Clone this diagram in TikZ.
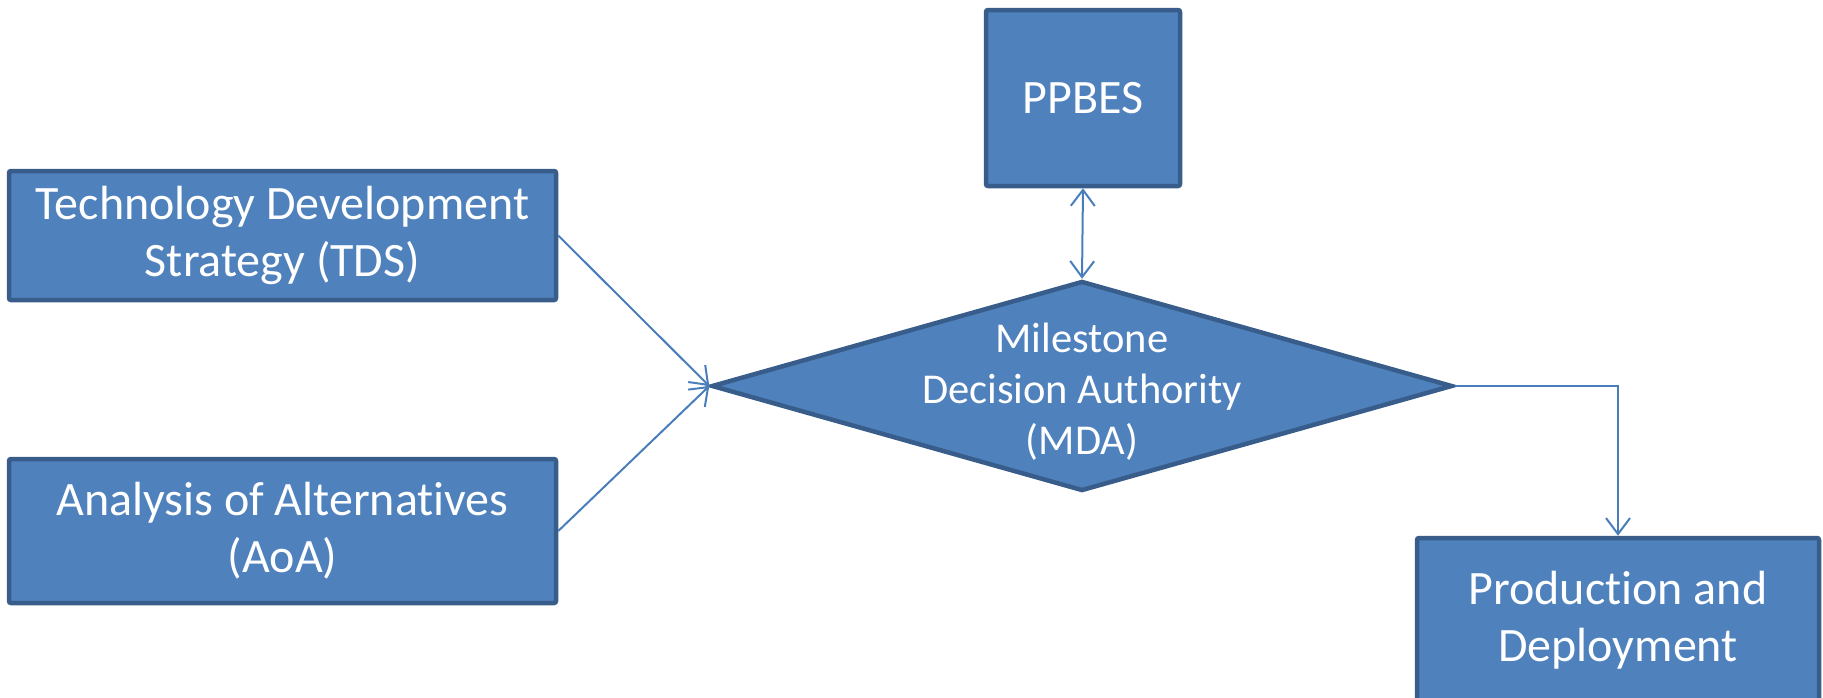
\documentclass[tikz,border=0pt]{standalone}
\usepackage{fontspec}
\setmainfont{Carlito}[Ligatures=NoCommon]
\usetikzlibrary{arrows.meta,shapes.geometric}
\definecolor{boxfill}{HTML}{4F81BD}
\definecolor{boxline}{HTML}{385D8A}
\definecolor{conn}{HTML}{4A7EBB}
\tikzset{
  box/.style={draw=boxline, fill=boxfill, line width=4.5pt, rounded corners=2pt,
    text=white, align=center, inner sep=0pt, font=\fontsize{48}{57}\selectfont},
  mdashape/.style={draw=boxline, fill=boxfill, line width=4.5pt, diamond, inner sep=0pt,
    minimum width=741pt, minimum height=210pt},
  mdatext/.style={text=white, align=center, font=\fontsize{42.5}{51}\selectfont},
  conline/.style={draw=conn, line width=2pt, -{Straight Barb[length=16pt,width=24pt]}},
}
\begin{document}
\begin{tikzpicture}[x=1pt,y=-1pt]
\useasboundingbox (0,0) rectangle (1823,697);
\clip (0,0) rectangle (1823,697);
\node[box, minimum width=547pt, minimum height=129pt] (tds) at (282.5,235.5) {Technology Development\\Strategy (TDS)};
\node[box, minimum width=547pt, minimum height=144pt] (aoa) at (282.5,531) {Analysis of Alternatives\\(AoA)};
\node[box, minimum width=194pt, minimum height=176pt] (ppbes) at (1083,98) {PPBES};
\node[mdashape] (mda) at (1082,386) {};
\node[mdatext, yshift=-6pt] (mdalabel) at (mda.center) {Milestone\\Decision Authority\\(MDA)};
\node[box, minimum width=402pt, minimum height=164pt] (prod) at (1618,620) {Production and\\Deployment};
\draw[conline] (tds.east) -- (mda.west);
\draw[conline] (aoa.east) -- (mda.west);
\draw[conline, {Straight Barb[length=16pt,width=24pt]}-{Straight Barb[length=16pt,width=24pt]}] (ppbes.south) -- (mda.north);
\draw[conline] (mda.east) -| (prod.north);
\end{tikzpicture}
\end{document}
